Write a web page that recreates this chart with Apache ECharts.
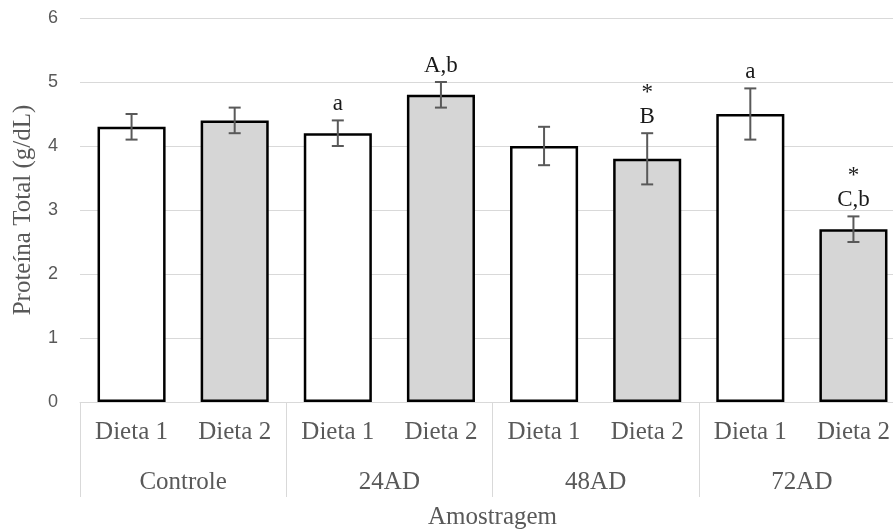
<!DOCTYPE html>
<html>
<head>
<meta charset="utf-8">
<script src="https://cdn.jsdelivr.net/npm/echarts@6/dist/echarts.min.js"></script>
<style>
  html, body { margin: 0; padding: 0; background: #fff; }
  #chart { width: 893px; height: 530px; }
</style>
</head>
<body>
<div id="chart"></div>
<script>
const groups = ['Controle', '24AD', '48AD', '72AD']
const dietas = ['Dieta 1', 'Dieta 2']
const means = [4.3, 4.4, 4.2, 4.8, 4.0, 3.8, 4.5, 2.7]
const errs = [0.2, 0.2, 0.2, 0.2, 0.3, 0.4, 0.4, 0.2]
const marks = ['', '', 'a', 'A,b', '', '*\nB', 'a', '*\nC,b']

const cats = []
groups.forEach(() => dietas.forEach((d) => cats.push(d)))

const serif = 'Liberation Serif'
const grey = '#595959'
const line = '#d9d9d9'

const chart = echarts.init(document.getElementById('chart'))

chart.setOption({
  animation: false,
  backgroundColor: '#fff',
  grid: { left: 80, top: 18, width: 825, height: 384, outerBoundsMode: 'none', containLabel: false },
  xAxis: [
    {
      type: 'category',
      data: cats,
      position: 'bottom',
      axisLine: { lineStyle: { color: line, width: 1 } },
      axisTick: { show: false },
      axisLabel: { color: grey, fontFamily: serif, fontSize: 25, margin: 18, interval: 0 },
      name: 'Amostragem',
      nameLocation: 'middle',
      nameGap: 103,
      nameTextStyle: { color: grey, fontFamily: serif, fontSize: 25, verticalAlign: 'top' },
    },
    {
      type: 'category',
      data: groups,
      position: 'bottom',
      axisLine: { show: false },
      axisTick: { show: true, length: 95, lineStyle: { color: line, width: 1 } },
      axisLabel: { color: grey, fontFamily: serif, fontSize: 25, margin: 68, interval: 0 },
    },
  ],
  yAxis: {
    type: 'value',
    min: 0,
    max: 6,
    interval: 1,
    axisLine: { show: false },
    axisTick: { show: false },
    splitLine: { lineStyle: { color: line, width: 1 } },
    axisLabel: { color: grey, fontFamily: 'Liberation Sans', fontSize: 18, margin: 22 },
    name: 'Proteína Total (g/dL)',
    nameLocation: 'middle',
    nameGap: 44,
    nameTextStyle: { color: grey, fontFamily: serif, fontSize: 25 },
  },
  series: [
    {
      type: 'bar',
      barWidth: '66%',
      data: means.map((v, i) => ({
        value: v,
        itemStyle: { color: i % 2 ? '#d6d6d6' : '#ffffff', borderColor: '#000', borderWidth: 2.5 },
      })),
    },
    {
      type: 'custom',
      data: means.map((v, i) => [i, v, errs[i], marks[i]]),
      renderItem(params, api) {
        const i = api.value(0)
        const m = api.value(1)
        const e = api.value(2)
        const top = api.coord([i, m + e])
        const bot = api.coord([i, m - e])
        const cap = 6
        const st = { stroke: grey, lineWidth: 2 }
        const children = [
          { type: 'line', shape: { x1: top[0], y1: top[1], x2: bot[0], y2: bot[1] }, style: st },
          { type: 'line', shape: { x1: top[0] - cap, y1: top[1], x2: top[0] + cap, y2: top[1] }, style: st },
          { type: 'line', shape: { x1: bot[0] - cap, y1: bot[1], x2: bot[0] + cap, y2: bot[1] }, style: st },
        ]
        const txt = marks[params.dataIndex]
        if (txt) {
          children.push({
            type: 'text',
            style: {
              text: txt, x: top[0], y: top[1] - 4,
              align: 'center', verticalAlign: 'bottom',
              fontFamily: serif, fontSize: 23, lineHeight: 24, fill: '#1a1a1a',
            },
          })
        }
        return { type: 'group', children }
      },
      z: 5,
    },
  ],
})
</script>
</body>
</html>
